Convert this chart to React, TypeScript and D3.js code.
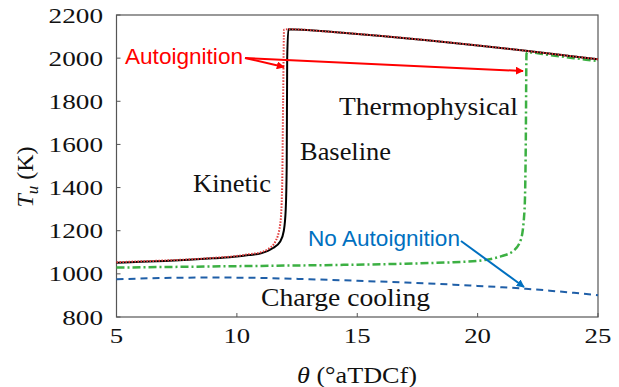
import React from "react";
import * as d3 from "d3";

const xTicks = [5, 10, 15, 20, 25];
const yTicks = [800, 1000, 1200, 1400, 1600, 1800, 2000, 2200];

const baselineTheta = [5, 6, 7, 8, 9, 10, 10.5, 11, 11.5, 11.8, 11.95, 12.03, 12.07, 12.09, 12.14, 14, 16, 18, 20, 22, 24, 25];
const baselineT = [1052, 1056, 1060, 1065, 1072, 1080, 1087, 1095, 1120, 1150, 1200, 1300, 1500, 2000, 2134, 2121, 2103, 2082, 2059, 2034, 2008, 1995];

const kineticTheta = [5, 6, 7, 8, 9, 10, 10.5, 11, 11.3, 11.6, 11.8, 11.88, 11.92, 11.96, 12.14, 14, 16, 18, 20, 22, 24, 25];
const kineticT = [1054, 1058, 1062, 1067, 1074, 1083, 1091, 1100, 1115, 1150, 1230, 1400, 1800, 2132, 2134, 2121, 2103, 2082, 2059, 2034, 2008, 1995];

const thermoTheta = [5, 8, 11, 14, 17, 19, 20, 20.5, 21, 21.5, 21.8, 21.95, 22.0, 22.03, 22.08, 23, 24, 25];
const thermoT = [1029, 1033, 1037, 1041, 1047, 1054, 1060, 1068, 1082, 1108, 1160, 1300, 1600, 2020, 2027, 2014, 2000, 1986];

const coolingTheta = [5, 7, 9, 11, 13, 15, 17, 19, 20, 21, 22, 23, 24, 25];
const coolingT = [975, 981, 983, 981, 975, 968, 960, 950, 944, 938, 931, 922, 912, 901];

const W = 619, H = 387;
const m = { left: 116.5, right: 598, top: 15, bottom: 317 };

export default function App() {
  const x = d3.scaleLinear().domain([5, 25]).range([m.left, m.right]);
  const y = d3.scaleLinear().domain([800, 2200]).range([m.bottom, m.top]);
  const line = (xs: number[], ys: number[]) =>
    d3.line<number>().x((_, i) => x(xs[i])).y((_, i) => y(ys[i])).curve(d3.curveMonotoneX)(xs) || "";

  const serif = "'Liberation Serif', serif";
  const sans = "'Liberation Sans', sans-serif";
  const ink = "#111";

  return (
    <svg width={W} height={H} style={{ position: "absolute", left: 0, top: 0, background: "#fff" }}>
      <defs>
        <marker id="arR" viewBox="0 0 10 10" refX="9" refY="5" markerWidth="4" markerHeight="4" orient="auto">
          <path d="M0,0 L10,5 L0,10 z" fill="#ff0000" />
        </marker>
        <marker id="arB" viewBox="0 0 10 10" refX="9" refY="5" markerWidth="4" markerHeight="4" orient="auto">
          <path d="M0,0 L10,5 L0,10 z" fill="#0070c0" />
        </marker>
      </defs>
      <rect x={m.left} y={m.top} width={m.right - m.left} height={m.bottom - m.top} fill="none" stroke="#555" strokeWidth={1.2} />
      {xTicks.map((t) => (
        <g key={"x" + t}>
          <line x1={x(t)} x2={x(t)} y1={m.bottom} y2={m.bottom - 4} stroke="#555" />
          <text x={x(t)} y={343} textAnchor="middle" fontFamily={serif} fontSize={22} fill={ink}
            textLength={String(t).length * 13.4} lengthAdjust="spacingAndGlyphs">{t}</text>
        </g>
      ))}
      {yTicks.map((t) => (
        <g key={"y" + t}>
          <line x1={m.left} x2={m.left + 4} y1={y(t)} y2={y(t)} stroke="#555" />
          <text x={103} y={y(t) + 7.5} textAnchor="end" fontFamily={serif} fontSize={22} fill={ink}
            textLength={String(t).length * 13.6} lengthAdjust="spacingAndGlyphs">{t}</text>
        </g>
      ))}
      <path d={line(coolingTheta, coolingT)} fill="none" stroke="#1f5fa8" strokeWidth={2} strokeDasharray="7,5" />
      <path d={line(thermoTheta, thermoT)} fill="none" stroke="#3cb043" strokeWidth={2.5} strokeDasharray="8,3,2,3" />
      <path d={line(baselineTheta, baselineT)} fill="none" stroke="#000" strokeWidth={2} />
      <path d={line(kineticTheta, kineticT)} fill="none" stroke="#e03c3c" strokeWidth={2} strokeDasharray="1.5,1.5" />

      <text x={125} y={64} fontFamily={sans} fontSize={22.5} fill="#ff0000" textLength={118} lengthAdjust="spacingAndGlyphs">Autoignition</text>
      <line x1={245} y1={58} x2={284} y2={67} stroke="#ff0000" strokeWidth={2} markerEnd="url(#arR)" />
      <line x1={245} y1={58} x2={523} y2={71} stroke="#ff0000" strokeWidth={2} markerEnd="url(#arR)" />

      <text x={308} y={246} fontFamily={sans} fontSize={22.5} fill="#0070c0" textLength={152} lengthAdjust="spacingAndGlyphs">No Autoignition</text>
      <line x1={461} y1={241} x2={524} y2={287} stroke="#0070c0" strokeWidth={2} markerEnd="url(#arB)" />

      <text x={193} y={192} fontFamily={serif} fontSize={25} fill={ink} textLength={78} lengthAdjust="spacingAndGlyphs">Kinetic</text>
      <text x={300} y={160} fontFamily={serif} fontSize={25} fill={ink} textLength={91} lengthAdjust="spacingAndGlyphs">Baseline</text>
      <text x={339} y={115} fontFamily={serif} fontSize={25} fill={ink} textLength={179} lengthAdjust="spacingAndGlyphs">Thermophysical</text>
      <text x={261} y={306} fontFamily={serif} fontSize={25} fill={ink} textLength={169} lengthAdjust="spacingAndGlyphs">Charge cooling</text>

      <text x={297} y={383} fontFamily={serif} fontSize={24} fill={ink} textLength={120} lengthAdjust="spacingAndGlyphs">
        <tspan fontStyle="italic">θ</tspan> (°aTDCf)
      </text>
      <text transform="translate(33,177) rotate(-90)" textAnchor="middle" fontFamily={serif} fontSize={24} fill={ink}>
        <tspan fontStyle="italic">T</tspan>
        <tspan fontStyle="italic" fontSize={17} dy={5}>u</tspan>
        <tspan dy={-5}> (K)</tspan>
      </text>
    </svg>
  );
}
